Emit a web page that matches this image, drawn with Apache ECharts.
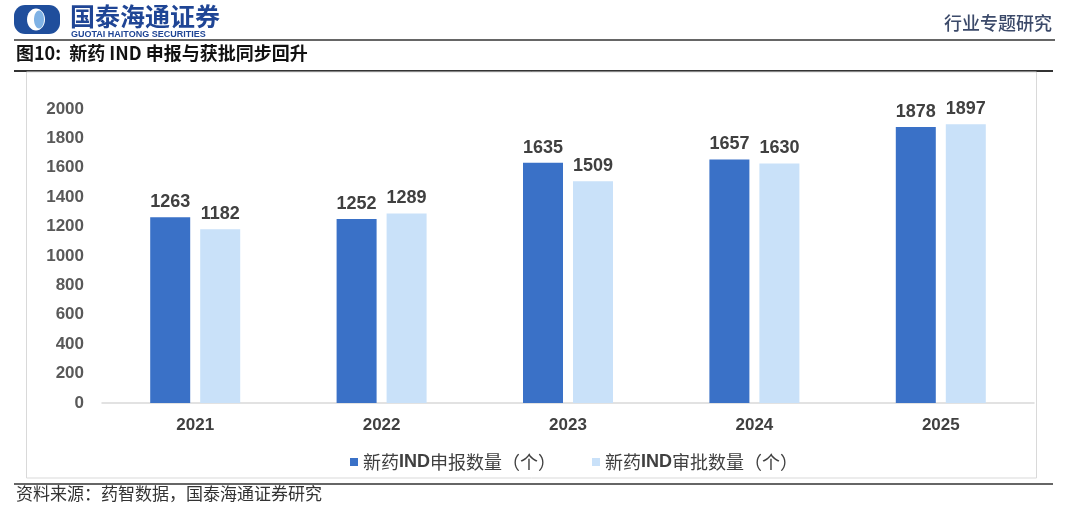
<!DOCTYPE html>
<html>
<head>
<meta charset="utf-8">
<script src="https://cdn.jsdelivr.net/npm/echarts@6/dist/echarts.min.js"></script>
<style>
html,body{margin:0;padding:0;background:#fff;}
#c{width:1080px;height:514px;}
</style>
</head>
<body>
<div id="c"></div>
<script>
const categories = ['2021', '2022', '2023', '2024', '2025'];
const filings = [1263, 1252, 1635, 1657, 1878];
const approvals = [1182, 1289, 1509, 1630, 1897];
const seriesNames = ['新药IND申报数量（个）', '新药IND审批数量（个）'];
const yTicks = { min: 0, max: 2000, interval: 200 };

const chart = echarts.init(document.getElementById('c'), null, { renderer: 'canvas' });
const sans = '"Liberation Sans", Arial, "Noto Sans CJK SC", sans-serif';
const cjk = '"Noto Sans CJK SC", sans-serif';

chart.setOption({
  animation: false,
  backgroundColor: '#fff',
  grid: { left: 102, right: 46, top: 109, bottom: 111, containLabel: false },
  xAxis: {
    type: 'category',
    data: categories,
    axisLine: { show: true, lineStyle: { color: '#d9d9d9', width: 1.5 } },
    axisTick: { show: false },
    axisLabel: { color: '#404040', fontSize: 17, fontWeight: 'bold', fontFamily: sans, margin: 14 }
  },
  yAxis: {
    type: 'value',
    min: yTicks.min, max: yTicks.max, interval: yTicks.interval,
    axisLine: { show: false },
    axisTick: { show: false },
    splitLine: { show: false },
    axisLabel: { color: '#595959', fontSize: 17, fontWeight: 'bold', fontFamily: sans, margin: 18, formatter: v => String(v) }
  },
  legend: {
    left: 345, top: 448,
    itemWidth: 8, itemHeight: 8, itemGap: 36,
    icon: 'rect',
    formatter: name => {
      const i = name.indexOf('IND');
      return '{a|' + name.slice(0, i) + '}{b|IND}{a|' + name.slice(i + 3) + '}';
    },
    textStyle: {
      fontSize: 18, color: '#404040', fontFamily: cjk,
      rich: {
        a: { fontSize: 18, color: '#404040', fontFamily: cjk },
        b: { fontSize: 18, color: '#404040', fontFamily: sans, fontWeight: 'bold' }
      }
    },
    data: seriesNames
  },
  series: [
    {
      name: seriesNames[0], type: 'bar', data: filings,
      barWidth: 40, barGap: '25%',
      itemStyle: { color: '#3A71C7' },
      label: { show: true, position: 'top', distance: 6, color: '#404040', fontSize: 18, fontWeight: 'bold', fontFamily: sans }
    },
    {
      name: seriesNames[1], type: 'bar', data: approvals,
      barWidth: 40,
      itemStyle: { color: '#C9E1F9' },
      label: { show: true, position: 'top', distance: 6, color: '#404040', fontSize: 18, fontWeight: 'bold', fontFamily: sans }
    }
  ],
  graphic: [
    { type: 'rect', shape: { x: 14, y: 5, width: 46, height: 29, r: 11 }, style: { fill: '#1F4E9C' } },
    { type: 'ellipse', shape: { cx: 36, cy: 19.5, rx: 9, ry: 11 }, style: { fill: '#ffffff' } },
    { type: 'ellipse', shape: { cx: 39, cy: 19.5, rx: 5, ry: 9 }, style: { fill: '#7FB2E5' } },
    { type: 'text', left: 70, top: 4, style: { text: '国泰海通证券', fill: '#1F4595', font: 'bold 25px "Noto Sans CJK SC", sans-serif' } },
    { type: 'text', left: 71, top: 30, style: { text: 'GUOTAI HAITONG SECURITIES', fill: '#1F4595', font: 'bold 9px "Liberation Sans", Arial, sans-serif' } },
    { type: 'text', right: 28, top: 14, style: { text: '行业专题研究', fill: '#3C4A6A', font: '500 18px "Noto Sans CJK SC", sans-serif' } },
    { type: 'line', shape: { x1: 14, y1: 40, x2: 1055, y2: 40 }, style: { stroke: '#333', lineWidth: 1.5 } },
    { type: 'text', left: 16, top: 44, style: { text: '图10:  新药 IND 申报与获批同步回升', fill: '#111', font: 'bold 18px "Noto Sans CJK SC", sans-serif' } },
    { type: 'line', shape: { x1: 14, y1: 71, x2: 1053, y2: 71 }, style: { stroke: '#333', lineWidth: 2 } },
    { type: 'rect', shape: { x: 26.5, y: 72, width: 1010, height: 406 }, style: { fill: 'none', stroke: '#d9d9d9', lineWidth: 1 } },
    { type: 'line', shape: { x1: 14, y1: 484, x2: 1053, y2: 484 }, style: { stroke: '#333', lineWidth: 1.5 } },
    { type: 'text', left: 16, top: 485, style: { text: '资料来源：药智数据，国泰海通证券研究', fill: '#333', font: '17px "Noto Sans CJK SC", sans-serif' } }
  ]
});
</script>
</body>
</html>
